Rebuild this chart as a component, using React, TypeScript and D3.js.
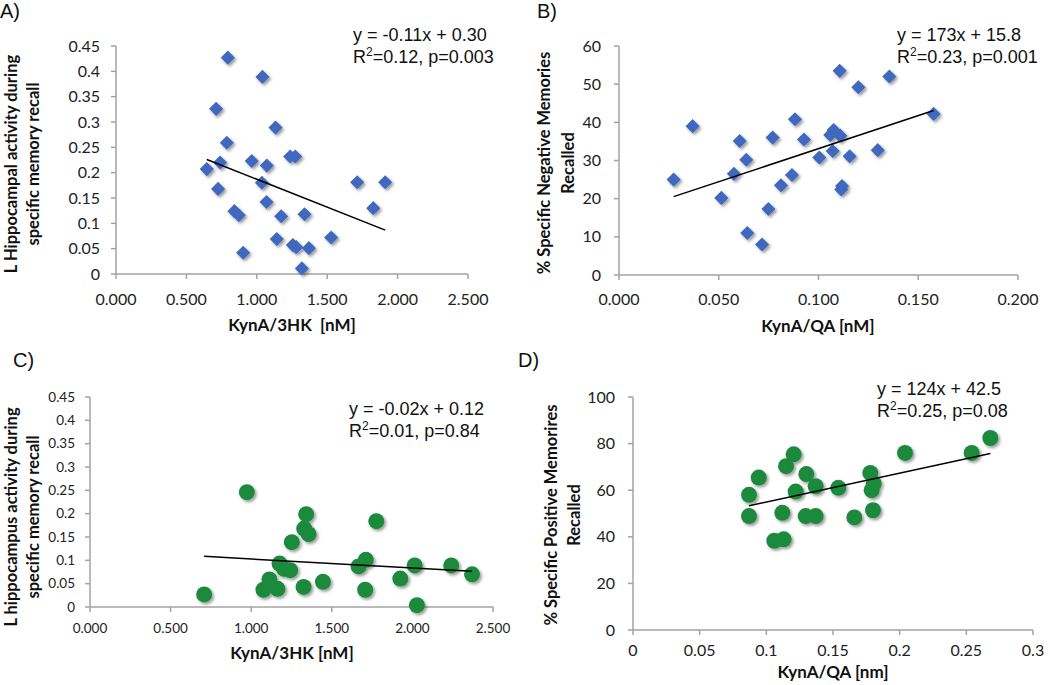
import React from "react";
import * as d3 from "d3";

// ---------- data ----------
const aX = [0.794, 1.040, 0.711, 1.133, 0.787, 0.739, 0.645, 0.964, 1.071, 1.237, 1.273, 1.036, 0.725, 1.713, 1.912, 1.069, 1.827, 0.841, 0.872, 1.173, 1.339, 1.142, 1.528, 1.256, 1.280, 1.370, 0.903, 1.320];
const aY = [0.427, 0.389, 0.326, 0.289, 0.259, 0.220, 0.207, 0.223, 0.214, 0.232, 0.232, 0.180, 0.168, 0.181, 0.181, 0.142, 0.130, 0.124, 0.116, 0.114, 0.118, 0.069, 0.072, 0.057, 0.053, 0.051, 0.042, 0.011];
const aFit = [-0.11, 0.297];

const bX = [0.0274, 0.0369, 0.0513, 0.0576, 0.0605, 0.0638, 0.0643, 0.0717, 0.0749, 0.0770, 0.0812, 0.0867, 0.0882, 0.0927, 0.1004, 0.1059, 0.1076, 0.1071, 0.1109, 0.1106, 0.1118, 0.1114, 0.1156, 0.1200, 0.1297, 0.1355, 0.1577];
const bY = [25.0, 39.0, 20.2, 26.5, 35.1, 30.2, 11.0, 8.0, 17.3, 36.0, 23.5, 26.2, 40.8, 35.5, 30.8, 36.7, 38.0, 32.5, 36.5, 53.5, 23.3, 22.4, 31.1, 49.2, 32.7, 52.0, 42.2];
const bFit = [173, 15.8];

const cX = [0.708, 0.973, 1.076, 1.113, 1.163, 1.176, 1.204, 1.242, 1.252, 1.325, 1.329, 1.341, 1.356, 1.445, 1.666, 1.711, 1.707, 1.776, 1.925, 2.014, 2.028, 2.241, 2.370];
const cY = [0.027, 0.246, 0.037, 0.059, 0.039, 0.093, 0.082, 0.079, 0.139, 0.043, 0.168, 0.199, 0.156, 0.054, 0.087, 0.101, 0.037, 0.184, 0.061, 0.089, 0.004, 0.089, 0.070];
const cFit = [-0.0193, 0.1222];

const dX = [0.087, 0.087, 0.0943, 0.106, 0.113, 0.112, 0.1148, 0.1205, 0.122, 0.130, 0.1295, 0.137, 0.137, 0.154, 0.166, 0.178, 0.1805, 0.179, 0.180, 0.204, 0.254, 0.268];
const dY = [58.0, 48.9, 65.4, 38.3, 38.9, 50.3, 70.3, 75.4, 59.4, 66.9, 48.9, 48.9, 61.7, 61.0, 48.3, 67.4, 62.9, 60.0, 51.4, 76.0, 76.0, 82.4];
const dFit = [124, 42.5];

const ratio3HKTicks = [0, 0.5, 1.0, 1.5, 2.0, 2.5];
const ratio3HKLabels = ["0.000", "0.500", "1.000", "1.500", "2.000", "2.500"];
const activityTicks = [0, 0.05, 0.1, 0.15, 0.2, 0.25, 0.3, 0.35, 0.4, 0.45];
const activityLabels = ["0", "0.05", "0.1", "0.15", "0.2", "0.25", "0.3", "0.35", "0.4", "0.45"];
const qaTicksB = [0, 0.05, 0.1, 0.15, 0.2];
const qaLabelsB = ["0.000", "0.050", "0.100", "0.150", "0.200"];
const negTicks = [0, 10, 20, 30, 40, 50, 60];
const qaTicksD = [0, 0.05, 0.1, 0.15, 0.2, 0.25, 0.3];
const qaLabelsD = ["0", "0.05", "0.1", "0.15", "0.2", "0.25", "0.3"];
const posTicks = [0, 20, 40, 60, 80, 100];

const BLUE = "#4068BE";
const GREEN = "#1F8A3E";
const AXIS = "#a3a3a3";
const TICKFONT = "Lato, 'Open Sans', sans-serif";
const ANNFONT = "'Liberation Sans', Arial, sans-serif";

type PanelProps = {
  label: string;
  labelX: number;
  labelY: number;
  rect: { x0: number; x1: number; y0: number; y1: number };
  xDomain: [number, number];
  yDomain: [number, number];
  xTicks: number[];
  xLabels: string[];
  yTicks: number[];
  yLabels: string[];
  tickSize: number;
  xLabelOffset: number;
  yLabelGap: number;
  xs: number[];
  ys: number[];
  fit: number[];
  marker: "diamond" | "circle";
  eq: string;
  stats: string;
  annX: number;
  annY: number;
  xTitle: string;
  xTitleX: number;
  xTitleY: number;
  yTitle: string[];
  yTitleX: number[];
  yTitleY: number;
};

function Panel(p: PanelProps) {
  const x = d3.scaleLinear().domain(p.xDomain).range([p.rect.x0, p.rect.x1]);
  const y = d3.scaleLinear().domain(p.yDomain).range([p.rect.y1, p.rect.y0]);
  const xmin = d3.min(p.xs) as number;
  const xmax = d3.max(p.xs) as number;
  const line = d3.line<number>().x((v) => x(v)).y((v) => y(p.fit[0] * v + p.fit[1]));
  const diamond = d3.symbol().type(d3.symbolSquare).size(100)() as string;
  const [r2a, r2b] = p.stats.split("|");
  return (
    <g>
      <text x={p.labelX} y={p.labelY} fontFamily={ANNFONT} fontSize={20} fill="#111">{p.label}</text>
      {/* axes */}
      <line x1={p.rect.x0} x2={p.rect.x1} y1={p.rect.y1} y2={p.rect.y1} stroke={AXIS} strokeWidth={1.5} />
      <line x1={p.rect.x0} x2={p.rect.x0} y1={p.rect.y0} y2={p.rect.y1} stroke={AXIS} strokeWidth={1.5} />
      {p.xTicks.map((t, i) => (
        <g key={"xt" + i}>
          <line x1={x(t)} x2={x(t)} y1={p.rect.y1} y2={p.rect.y1 + 5} stroke={AXIS} strokeWidth={1.5} />
          <text x={x(t)} y={p.rect.y1 + p.xLabelOffset} textAnchor="middle" fontFamily={TICKFONT} fontSize={p.tickSize} fill="#222">{p.xLabels[i]}</text>
        </g>
      ))}
      {p.yTicks.map((t, i) => (
        <g key={"yt" + i}>
          <line x1={p.rect.x0 - 5} x2={p.rect.x0} y1={y(t)} y2={y(t)} stroke={AXIS} strokeWidth={1.5} />
          <text x={p.rect.x0 - p.yLabelGap} y={y(t)} dy="0.35em" textAnchor="end" fontFamily={TICKFONT} fontSize={p.tickSize} fill="#222">{p.yLabels[i]}</text>
        </g>
      ))}
      {/* markers */}
      <g filter="url(#shadow)">
        {p.xs.map((v, i) =>
          p.marker === "diamond" ? (
            <path key={i} d={diamond} transform={`translate(${x(v)},${y(p.ys[i])}) rotate(45)`} fill={BLUE} />
          ) : (
            <circle key={i} cx={x(v)} cy={y(p.ys[i])} r={8} fill={GREEN} />
          )
        )}
      </g>
      {/* trendline */}
      <path d={line([xmin, xmax]) as string} stroke="#000" strokeWidth={1.5} fill="none" />
      {/* annotation */}
      <text x={p.annX} y={p.annY} fontFamily={ANNFONT} fontSize={18} fill="#111">{p.eq}</text>
      <text x={p.annX} y={p.annY + 22} fontFamily={ANNFONT} fontSize={18} fill="#111">
        {r2a}
        <tspan fontSize={12} dy={-7}>2</tspan>
        <tspan dy={7}>{r2b}</tspan>
      </text>
      {/* titles */}
      <text x={p.xTitleX} y={p.xTitleY} textAnchor="middle" fontFamily={TICKFONT} fontWeight="bold" fontSize={17} fill="#111">{p.xTitle}</text>
      {p.yTitle.map((s, i) => (
        <text key={"yl" + i} transform={`translate(${p.yTitleX[i]},${p.yTitleY}) rotate(-90)`} textAnchor="middle" fontFamily={TICKFONT} fontWeight="bold" fontSize={16.5} fill="#111">{s}</text>
      ))}
    </g>
  );
}

export default function App() {
  return (
    <svg width={1050} height={685} style={{ position: "absolute", left: 0, top: 0, background: "#fff" }}>
      <defs>
        <filter id="shadow" x="-50%" y="-50%" width="200%" height="200%">
          <feGaussianBlur in="SourceGraphic" stdDeviation="0.6" result="blurSrc" />
          <feDropShadow in="blurSrc" dx="1.8" dy="2" stdDeviation="1.4" floodColor="#000" floodOpacity="0.4" />
        </filter>
      </defs>
      <rect width={1050} height={685} fill="#fff" />
      <Panel
        label="A)" labelX={0} labelY={18}
        rect={{ x0: 116, x1: 468, y0: 46, y1: 274 }}
        xDomain={[0, 2.5]} yDomain={[0, 0.45]}
        xTicks={ratio3HKTicks} xLabels={ratio3HKLabels}
        yTicks={activityTicks} yLabels={activityLabels}
        tickSize={16} xLabelOffset={31} yLabelGap={16}
        xs={aX} ys={aY} fit={aFit} marker="diamond"
        eq="y = -0.11x + 0.30" stats="R|=0.12, p=0.003" annX={353} annY={41}
        xTitle={"KynA/3HK\u00a0\u00a0[nM]"} xTitleX={292} xTitleY={331}
        yTitle={["L Hippocampal activity during", "specific memory recall"]} yTitleX={[17, 39]} yTitleY={164}
      />
      <Panel
        label="B)" labelX={537} labelY={18}
        rect={{ x0: 619, x1: 1018, y0: 46, y1: 275 }}
        xDomain={[0, 0.2]} yDomain={[0, 60]}
        xTicks={qaTicksB} xLabels={qaLabelsB}
        yTicks={negTicks} yLabels={negTicks.map(String)}
        tickSize={16} xLabelOffset={30} yLabelGap={18}
        xs={bX} ys={bY} fit={bFit} marker="diamond"
        eq="y = 173x + 15.8" stats="R|=0.23, p=0.001" annX={897} annY={41}
        xTitle="KynA/QA [nM]" xTitleX={818} xTitleY={332}
        yTitle={["% Specific Negative Memories", "Recalled"]} yTitleX={[550, 574]} yTitleY={163}
      />
      <Panel
        label="C)" labelX={13} labelY={367}
        rect={{ x0: 90, x1: 493, y0: 397, y1: 607 }}
        xDomain={[0, 2.5]} yDomain={[0, 0.45]}
        xTicks={ratio3HKTicks} xLabels={ratio3HKLabels}
        yTicks={activityTicks} yLabels={activityLabels}
        tickSize={13.5} xLabelOffset={26} yLabelGap={15}
        xs={cX} ys={cY} fit={cFit} marker="circle"
        eq="y = -0.02x + 0.12" stats="R|=0.01, p=0.84" annX={349} annY={415}
        xTitle="KynA/3HK [nM]" xTitleX={292} xTitleY={659}
        yTitle={["L hippocampus activity during", "specific memory recall"]} yTitleX={[17, 39]} yTitleY={517}
      />
      <Panel
        label="D)" labelX={518} labelY={367}
        rect={{ x0: 633, x1: 1033, y0: 397, y1: 630 }}
        xDomain={[0, 0.3]} yDomain={[0, 100]}
        xTicks={qaTicksD} xLabels={qaLabelsD}
        yTicks={posTicks} yLabels={posTicks.map(String)}
        tickSize={16} xLabelOffset={26} yLabelGap={18}
        xs={dX} ys={dY} fit={dFit} marker="circle"
        eq="y = 124x + 42.5" stats="R|=0.25, p=0.08" annX={877} annY={395}
        xTitle="KynA/QA [nm]" xTitleX={833} xTitleY={678}
        yTitle={["% Specific Positive Memorires", "Recalled"]} yTitleX={[557, 580]} yTitleY={515}
      />
    </svg>
  );
}
